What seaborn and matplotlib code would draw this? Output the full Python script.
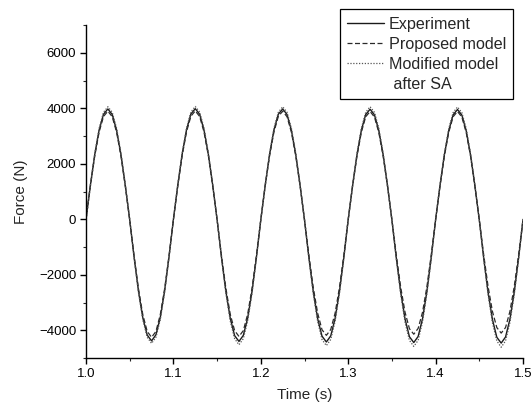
import matplotlib
matplotlib.use("Agg")
import matplotlib.pyplot as plt
from matplotlib.lines import Line2D
from matplotlib.ticker import MultipleLocator
import seaborn as sns
import pandas as pd

time_s = [
    1.000, 1.005, 1.010, 1.015, 1.020, 1.025, 1.030, 1.035, 1.040, 1.045,
    1.050, 1.055, 1.060, 1.065, 1.070, 1.075, 1.080, 1.085, 1.090, 1.095,
    1.100, 1.105, 1.110, 1.115, 1.120, 1.125, 1.130, 1.135, 1.140, 1.145,
    1.150, 1.155, 1.160, 1.165, 1.170, 1.175, 1.180, 1.185, 1.190, 1.195,
    1.200, 1.205, 1.210, 1.215, 1.220, 1.225, 1.230, 1.235, 1.240, 1.245,
    1.250, 1.255, 1.260, 1.265, 1.270, 1.275, 1.280, 1.285, 1.290, 1.295,
    1.300, 1.305, 1.310, 1.315, 1.320, 1.325, 1.330, 1.335, 1.340, 1.345,
    1.350, 1.355, 1.360, 1.365, 1.370, 1.375, 1.380, 1.385, 1.390, 1.395,
    1.400, 1.405, 1.410, 1.415, 1.420, 1.425, 1.430, 1.435, 1.440, 1.445,
    1.450, 1.455, 1.460, 1.465, 1.470, 1.475, 1.480, 1.485, 1.490, 1.495,
    1.500,
]

experiment = [
    0, 1230, 2340, 3220, 3790, 3980, 3780, 3210, 2330, 1210,
    -20, -1360, -2580, -3550, -4170, -4380, -4160, -3530, -2560, -1340,
    0, 1240, 2350, 3230, 3800, 3990, 3790, 3220, 2340, 1220,
    -20, -1370, -2590, -3560, -4190, -4400, -4180, -3550, -2580, -1350,
    -10, 1230, 2340, 3220, 3790, 3980, 3780, 3210, 2330, 1210,
    -30, -1380, -2600, -3580, -4210, -4420, -4200, -3570, -2590, -1360,
    0, 1220, 2330, 3210, 3780, 3970, 3770, 3200, 2320, 1200,
    -30, -1390, -2610, -3590, -4230, -4440, -4220, -3580, -2600, -1370,
    -10, 1220, 2330, 3200, 3770, 3960, 3760, 3190, 2310, 1190,
    -40, -1400, -2630, -3610, -4250, -4460, -4240, -3600, -2610, -1370,
    0,
]

proposed = [
    0, 1200, 2290, 3150, 3710, 3900, 3700, 3140, 2280, 1180,
    -20, -1320, -2500, -3440, -4040, -4250, -4040, -3430, -2490, -1300,
    0, 1210, 2300, 3160, 3720, 3910, 3710, 3150, 2290, 1190,
    -20, -1310, -2480, -3420, -4010, -4220, -4010, -3410, -2470, -1290,
    0, 1200, 2290, 3150, 3710, 3900, 3700, 3140, 2280, 1180,
    -20, -1300, -2460, -3380, -3980, -4180, -3970, -3380, -2450, -1280,
    0, 1200, 2280, 3140, 3700, 3890, 3690, 3130, 2270, 1180,
    -20, -1290, -2440, -3350, -3940, -4140, -3930, -3350, -2430, -1270,
    0, 1200, 2280, 3140, 3700, 3890, 3690, 3130, 2270, 1180,
    -20, -1280, -2420, -3320, -3900, -4100, -3900, -3320, -2410, -1260,
    0,
]

modified = [
    0, 1250, 2380, 3280, 3860, 4060, 3860, 3280, 2380, 1240,
    -20, -1390, -2630, -3620, -4250, -4470, -4250, -3610, -2620, -1370,
    0, 1260, 2390, 3290, 3870, 4070, 3870, 3290, 2390, 1250,
    -20, -1400, -2660, -3660, -4300, -4520, -4300, -3650, -2650, -1390,
    0, 1250, 2380, 3280, 3860, 4060, 3860, 3280, 2380, 1240,
    -30, -1410, -2680, -3680, -4330, -4550, -4330, -3670, -2670, -1400,
    0, 1250, 2380, 3280, 3860, 4060, 3860, 3280, 2380, 1240,
    -30, -1420, -2690, -3710, -4360, -4580, -4360, -3700, -2680, -1410,
    0, 1250, 2380, 3270, 3850, 4050, 3850, 3270, 2370, 1240,
    -30, -1430, -2710, -3730, -4380, -4610, -4380, -3720, -2700, -1420,
    0,
]

series_names = ["Experiment", "Proposed model", "Modified model"]
x_ticks = [1.0, 1.1, 1.2, 1.3, 1.4, 1.5]
y_ticks = [-4000, -2000, 0, 2000, 4000, 6000]

sns.set_style("ticks")
plt.rcParams["font.family"] = ["Liberation Sans", "DejaVu Sans"]

df = pd.DataFrame({
    "Time (s)": time_s * 3,
    "Force (N)": experiment + proposed + modified,
    "series": [series_names[0]] * len(time_s) + [series_names[1]] * len(time_s)
              + [series_names[2]] * len(time_s),
})

fig = plt.figure(figsize=(5.31, 4.13), dpi=100)
ax = fig.add_axes([0.162, 0.133, 0.823, 0.806])

styles = {
    "Experiment": dict(color="#1a1a1a", linestyle="-", linewidth=1.0),
    "Proposed model": dict(color="#2a2a2a", linestyle=(0, (4, 2)), linewidth=0.9),
    "Modified model": dict(color="#555555", linestyle=(0, (1, 1.3)), linewidth=0.9),
}
for name in series_names:
    sub = df[df["series"] == name]
    sns.lineplot(data=sub, x="Time (s)", y="Force (N)", ax=ax, legend=False,
                 **styles[name])

ax.set_xlim(1.0, 1.5)
ax.set_ylim(-5000, 7000)
ax.set_xticks(x_ticks)
ax.set_xticklabels([f"{v:.1f}" for v in x_ticks])
ax.set_yticks(y_ticks)
ax.xaxis.set_minor_locator(MultipleLocator(0.05))
ax.yaxis.set_minor_locator(MultipleLocator(1000))
ax.tick_params(axis="both", which="major", direction="out", length=4, width=1,
               labelsize=9.5, colors="black", pad=3)
ax.tick_params(axis="both", which="minor", direction="out", length=2.5, width=0.8)
for s in ["top", "right"]:
    ax.spines[s].set_visible(False)
for s in ["left", "bottom"]:
    ax.spines[s].set_linewidth(1.0)
    ax.spines[s].set_color("black")
ax.set_xlabel("Time (s)", fontsize=11, labelpad=6)
ax.set_ylabel("Force (N)", fontsize=11, labelpad=8)

handles = [
    Line2D([], [], **styles["Experiment"]),
    Line2D([], [], **styles["Proposed model"]),
    Line2D([], [], **styles["Modified model"]),
    Line2D([], [], linestyle="none"),
]
labels = ["Experiment", "Proposed model", "Modified model", " after SA"]
leg = fig.legend(handles, labels, loc="upper right",
                 bbox_to_anchor=(0.967, 0.977), fontsize=11.6,
                 frameon=True, fancybox=False, framealpha=1,
                 edgecolor="black", handlelength=2.3, handletextpad=0.3,
                 labelspacing=0.32, borderpad=0.45, borderaxespad=0)
leg.get_frame().set_linewidth(0.9)

fig.savefig("out.png", dpi=100)
